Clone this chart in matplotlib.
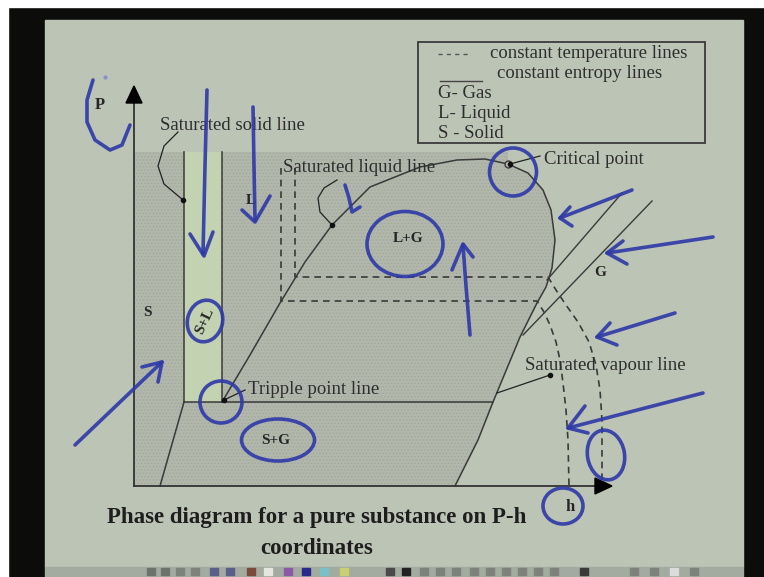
import matplotlib
matplotlib.use('Agg')
import matplotlib.pyplot as plt
from matplotlib.patches import Polygon, Rectangle, Ellipse

plt.rcParams['font.family'] = ['Liberation Serif', 'DejaVu Serif']
plt.rcParams['hatch.linewidth'] = 0.6

# ---- P-h diagram data (h to the right, P upward, origin at the axes corner) ----
H_MAX, P_MAX = 478, 400

# saturation dome: triple point -> saturated liquid -> critical point -> saturated vapour -> h axis
DOME_H = [88, 116, 146, 171, 198, 236, 286, 323, 351, 374, 394, 409, 417, 421, 418, 412, 403, 386, 359, 344, 321]
DOME_P = [84, 131, 183, 224, 261, 299, 319, 326, 327, 322, 313, 296, 276, 246, 218, 199, 183, 149, 84, 46, 0]
CRIT_IDX = 9

TRIPLE_P = 84
TRIPLE_H = [50, 359]
SOLID_H = 50      # saturated solid line
MELT_H = 88       # solid/liquid boundary
TOP_P = 334
SUBLIM_H = [50, 26]
SUBLIM_P = [84, 0]

# constant temperature lines (dashed)
T1_H = [147, 147, 403, 410, 416, 422, 426, 429, 432, 434, 435]
T1_P = [318, 185, 185, 174, 161, 144, 126, 103, 76, 46, 0]
T2_H = [161, 161, 414, 422, 432, 444, 455, 462, 466, 468, 468]
T2_P = [318, 209, 209, 196, 181, 164, 144, 121, 96, 66, 0]

# constant entropy lines (solid)
S1_H, S1_P = [413, 488], [206, 293]
S2_H, S2_P = [389, 518], [151, 285]

REGION_LABELS = ["S", "S+L", "L", "L+G", "G", "S+G"]
REGION_H = [13, 71, 117, 274, 466, 142]
REGION_P = [173, 165, 286, 248, 214, 46]
REGION_ROT = [0, 65, 0, 0, 0, 0]

NOTE_TEXT = ["Saturated solid line", "Saturated liquid line", "Critical point",
             "Saturated vapour line", "Tripple point line"]
NOTE_H = [26, 149, 410, 391, 114]
NOTE_P = [361, 318, 327, 121, 96]

# leader curves from the notes to the lines
LEAD_SOLID = ([44, 30, 24, 30, 49], [354, 340, 320, 302, 286])
LEAD_LIQUID = ([203, 190, 184, 186, 198], [306, 298, 288, 274, 261])
LEAD_CRIT = ([406, 376], [330, 322])
LEAD_VAPOUR = ([363, 416], [93, 111])
LEAD_TRIPLE = ([111, 90], [96, 86])

LEGEND_ROWS = ["constant temperature lines", "constant entropy lines", "G- Gas", "L- Liquid", "S - Solid"]

CAPTION = ["Phase diagram for a pure substance on P-h", "coordinates"]

# pen marks made on the slide
INK_STROKES = [
    ([-41, -47, -47, -39, -24, -12, -4], [406, 386, 364, 346, 336, 341, 361]),
    ([73, 71, 69], [396, 320, 232]), ([56, 70, 79], [252, 230, 254]),
    ([119, 120, 121], [379, 320, 266]), ([108, 121, 136], [276, 264, 290]),
    ([211, 215, 218, 226], [301, 288, 274, 279]),
    ([336, 332, 329], [151, 200, 241]), ([318, 329, 339], [216, 242, 229]),
    ([498, 426], [296, 268]), ([436, 426, 438], [279, 268, 260]),
    ([579, 473], [249, 233]), ([489, 473, 493], [245, 233, 222]),
    ([541, 463], [173, 149]), ([476, 463, 483], [163, 149, 141]),
    ([569, 434], [93, 58]), ([451, 434, 454], [80, 58, 53]),
    ([-59, 28], [41, 124]), ([8, 28, 24], [119, 124, 104]),
]
INK_LOOPS = [  # centre h, centre P, width, height, angle
    (271, 242, 76, 65, 0), (379, 314, 47, 48, 0), (472, 31, 37, 50, 10),
    (429, -20, 40, 36, 0), (71, 165, 35, 42, -15), (87, 84, 42, 42, 0),
    (144, 46, 73, 42, 0),
]

TOOL_H = [17, 31, 46, 61, 80, 96, 117, 134, 154, 172, 190, 210, 256, 272, 290, 306, 322, 340, 356, 372, 388, 404, 420, 450, 500, 520, 540, 560]
TOOL_C = ['#6d736b', '#6d736b', '#7d837a', '#7d837a', '#5a5f8a', '#5a5f8a', '#7a4a3a', '#e4e6e0', '#8a5aa8',
          '#2a2a8a', '#7ac0c8', '#c8d070', '#4a4a4a', '#222222', '#7d837a', '#7d837a', '#7d837a', '#7d837a',
          '#7d837a', '#7d837a', '#7d837a', '#7d837a', '#7d837a', '#3a3a3a', '#7d837a', '#7d837a', '#dcdcdc', '#7d837a']

SLIDE = '#bcc4b6'
SHADE = '#b1b7ab'
GREEN = '#c3d3b1'
INK = '#2e38a8'
DARK = '#262626'

fig = plt.figure(figsize=(7.64, 5.77), dpi=100, facecolor='#0c0c0a')
ax = fig.add_axes([0, 0, 1, 1])
ax.set_xlim(-134, 630)
ax.set_ylim(-91, 486)
ax.axis('off')

# slide, frame and toolbar
ax.add_patch(Rectangle((-134, 479), 764, 7, color='white', zorder=0))
ax.add_patch(Rectangle((-134, -91), 8, 577, color='white', zorder=0))
ax.add_patch(Rectangle((-89, -81), 698, 547, color=SLIDE, zorder=0))
ax.add_patch(Rectangle((-89, -91), 698, 10, color='#a3aa9f', zorder=0))
for th, tc in zip(TOOL_H, TOOL_C):
    ax.add_patch(Rectangle((th - 4, -89), 8, 7, color=tc, zorder=1))

# shaded regions
crit_h, crit_p = DOME_H[CRIT_IDX], DOME_P[CRIT_IDX]
shade_pts = [(0, 0), (0, TOP_P), (crit_h, TOP_P)] + list(zip(DOME_H[CRIT_IDX:], DOME_P[CRIT_IDX:]))
ax.add_patch(Polygon(shade_pts, closed=True, facecolor=SHADE, edgecolor='#a2a89c',
                     hatch='.....', linewidth=0, zorder=1))
ax.add_patch(Rectangle((SOLID_H, TRIPLE_P), MELT_H - SOLID_H, TOP_P - TRIPLE_P,
                       facecolor=GREEN, edgecolor='none', zorder=1))

# boundaries
lc = '#3a3a3a'
ax.plot(DOME_H, DOME_P, color=lc, lw=1.1, zorder=3)
ax.plot(TRIPLE_H, [TRIPLE_P, TRIPLE_P], color=lc, lw=1.1, zorder=3)
ax.plot([SOLID_H, SOLID_H], [TRIPLE_P, TOP_P], color=lc, lw=1.1, zorder=3)
ax.plot([MELT_H, MELT_H], [TRIPLE_P, TOP_P], color=lc, lw=1.1, zorder=3)
ax.plot(SUBLIM_H, SUBLIM_P, color=lc, lw=1.1, zorder=3)
ax.plot([crit_h], [crit_p], 'o', ms=5, mfc=SHADE, mec=lc, mew=1, zorder=4)

ax.plot(T1_H, T1_P, color=lc, lw=1.2, ls=(0, (4, 3)), zorder=3)
ax.plot(T2_H, T2_P, color=lc, lw=1.2, ls=(0, (4, 3)), zorder=3)
ax.plot(S1_H, S1_P, color=lc, lw=1.0, zorder=3)
ax.plot(S2_H, S2_P, color=lc, lw=1.0, zorder=3)

# axes with arrow heads
ax.plot([0, 0], [0, P_MAX - 10], color='#333333', lw=1.3, zorder=3)
ax.plot([0, H_MAX - 10], [0, 0], color='#333333', lw=1.3, zorder=3)
ax.add_patch(Polygon([(0, P_MAX), (-8, P_MAX - 17), (8, P_MAX - 17)], color='black', zorder=4))
ax.add_patch(Polygon([(H_MAX, 0), (H_MAX - 17, 8), (H_MAX - 17, -8)], color='black', zorder=4))
ax.text(-34, 381, "P", fontsize=12, fontweight='bold', color=DARK, ha='center', va='center')
ax.text(436, -21, "h", fontsize=12, fontweight='bold', color=DARK, ha='center', va='center')

for lab, rh, rp, rot in zip(REGION_LABELS, REGION_H, REGION_P, REGION_ROT):
    ax.text(rh, rp, lab, fontsize=11, fontweight='bold', color=DARK, ha='center', va='center',
            rotation=rot, zorder=5)

for txt, nh, np_ in zip(NOTE_TEXT, NOTE_H, NOTE_P):
    ax.text(nh, np_, txt, fontsize=13.5, color='#2e2e2e', ha='left', va='center', zorder=5)

for lh, lp in [LEAD_SOLID, LEAD_LIQUID, LEAD_CRIT, LEAD_TRIPLE]:
    ax.plot(lh, lp, color='#222222', lw=0.9, zorder=4)
    ax.plot(lh[-1], lp[-1], 'o', color='#111111', ms=3, zorder=4)
ax.plot(*LEAD_VAPOUR, color='#222222', lw=0.9, zorder=4)
ax.plot(LEAD_VAPOUR[0][-1], LEAD_VAPOUR[1][-1], 'o', color='#111111', ms=3, zorder=4)

# legend box
ax.add_patch(Rectangle((284, 343), 287, 101, facecolor='none', edgecolor='#3a3a3a', lw=1.3, zorder=4))
ax.plot([304, 334], [432, 432], color='#555555', lw=1.0, ls=(0, (3, 3)), zorder=4)
ax.plot([306, 348], [405, 405], color='#444444', lw=1.0, zorder=4)
legend_h = [356, 363, 304, 304, 304]
legend_p = [433, 413, 392, 372, 352]
for txt, gh, gp in zip(LEGEND_ROWS, legend_h, legend_p):
    ax.text(gh, gp, txt, fontsize=13.5, color='#2e2e2e', ha='left', va='center', zorder=5)

# caption
ax.text(183, -32, CAPTION[0], fontsize=16.5, fontweight='bold', color='#1e1e1e',
        ha='center', va='center')
ax.text(183, -63, CAPTION[1], fontsize=16.5, fontweight='bold', color='#1e1e1e',
        ha='center', va='center')

# pen marks
for sh, sp in INK_STROKES:
    ax.plot(sh, sp, color=INK, lw=2.6, solid_capstyle='round', solid_joinstyle='round',
            alpha=0.9, zorder=6, clip_on=False)
for ch, cp, w, h, ang in INK_LOOPS:
    ax.add_patch(Ellipse((ch, cp), w, h, angle=ang, facecolor='none', edgecolor=INK,
                         lw=2.6, alpha=0.9, zorder=6))
ax.plot([-29], [409], 'o', color='#8a90c8', ms=2, zorder=6)

fig.savefig('out.png', dpi=100, facecolor=fig.get_facecolor())
